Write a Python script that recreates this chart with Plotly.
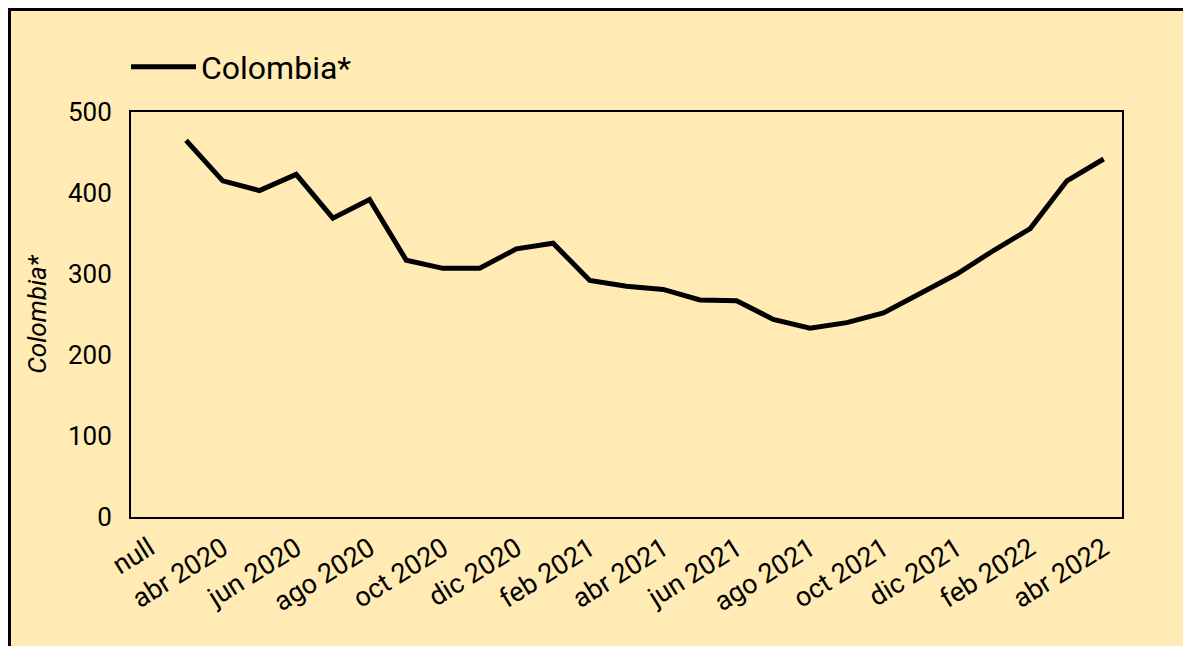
import plotly.graph_objects as go

categories = [
    "null", "mar 2020", "abr 2020", "may 2020", "jun 2020", "jul 2020", "ago 2020",
    "sep 2020", "oct 2020", "nov 2020", "dic 2020", "ene 2021", "feb 2021",
    "mar 2021", "abr 2021", "may 2021", "jun 2021", "jul 2021", "ago 2021",
    "sep 2021", "oct 2021", "nov 2021", "dic 2021", "ene 2022", "feb 2022",
    "mar 2022", "abr 2022",
]
colombia = [
    None, 465, 415, 403, 423, 369, 392, 317, 307, 307, 331, 338, 292,
    285, 281, 268, 267, 244, 233, 240, 252, 276, 300, 329, 356, 415, 442,
]
tick_labels = categories[::2]
series_name = "Colombia*"

W, H = 1191, 646
ML, MR, MT, MB = 123, 77, 104, 137
BG = "#FFEBB3"
FONT = "Roboto"

fig = go.Figure()
fig.add_trace(go.Scatter(
    x=categories, y=colombia, mode="lines", name=series_name,
    line=dict(color="black", width=5), connectgaps=False,
))

pw = W - ML - MR
ph = H - MT - MB

def px_x(p):
    return (p - ML) / pw

def px_y(p):
    return (H - MB - p) / ph

fig.update_layout(
    width=W, height=H,
    margin=dict(l=ML, r=MR, t=MT, b=MB),
    paper_bgcolor=BG, plot_bgcolor=BG,
    font=dict(family=FONT, color="black", size=26),
    showlegend=True,
    legend=dict(
        orientation="h", x=px_x(118), xanchor="left", y=px_y(59), yanchor="middle",
        font=dict(size=32, family=FONT), bgcolor="rgba(0,0,0,0)", itemwidth=65,
    ),
    xaxis=dict(
        type="category", categoryorder="array", categoryarray=categories,
        range=[-0.5, len(categories) - 0.5],
        tickmode="array", tickvals=tick_labels, ticktext=tick_labels,
        tickangle=-32, tickfont=dict(size=27, family=FONT), ticklabelstandoff=3,
        showgrid=False, zeroline=False,
        showline=True, mirror=True, linecolor="black", linewidth=2, ticks="",
    ),
    yaxis=dict(
        range=[0, 500], dtick=100, tickfont=dict(size=26, family=FONT),
        ticklabelstandoff=12,
        showgrid=False, zeroline=False,
        showline=True, mirror=True, linecolor="black", linewidth=2, ticks="",
        title=dict(text="<i>" + series_name + "</i>", font=dict(size=26, family=FONT), standoff=14),
    ),
    shapes=[
        dict(type="line", xref="paper", yref="paper", x0=px_x(-5), x1=px_x(W + 5),
             y0=px_y(1.5), y1=px_y(1.5), line=dict(color="black", width=3)),
        dict(type="line", xref="paper", yref="paper", x0=px_x(1.5), x1=px_x(1.5),
             y0=px_y(0), y1=px_y(H + 5), line=dict(color="black", width=3)),
    ],
)

fig.write_html("out.html")
